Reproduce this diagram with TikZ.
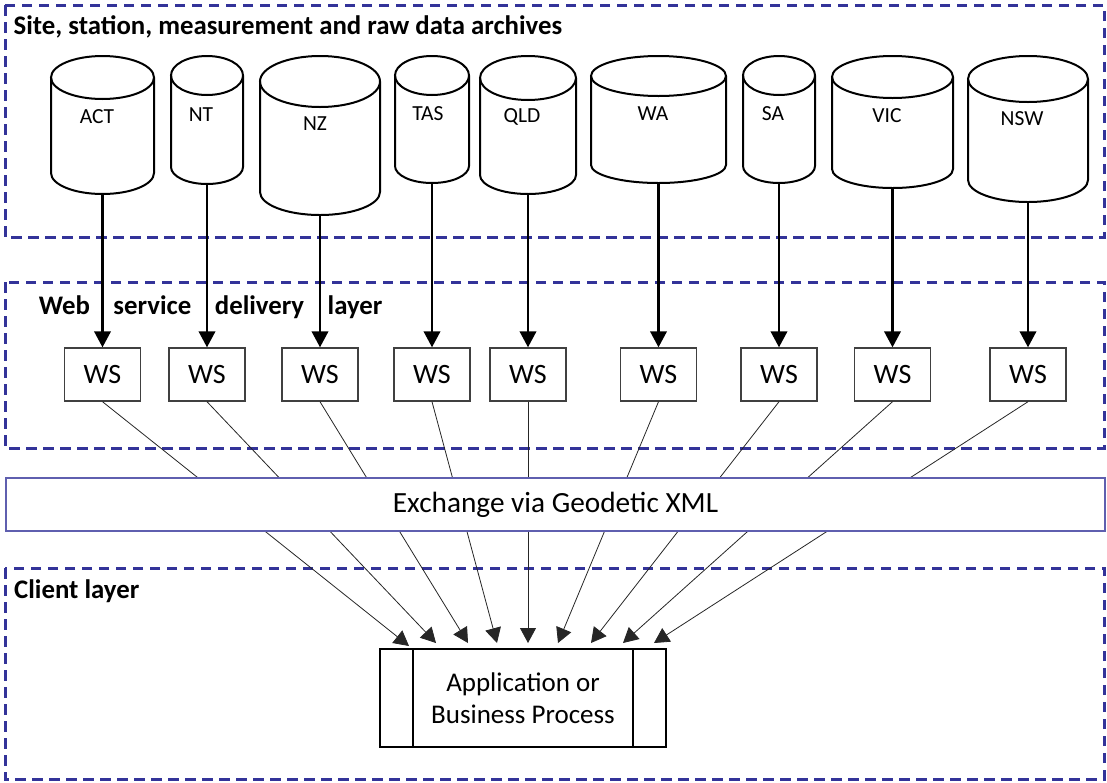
\documentclass[tikz,border=0pt]{standalone}
\usepackage{fontspec}
\setmainfont{Carlito}
\usetikzlibrary{arrows.meta}
\definecolor{dashblue}{RGB}{51,51,153}
\definecolor{barblue}{RGB}{95,95,175}
\newcommand\dbcyl[9]{%
  \pgfmathsetmacro\cyX{(#2+#3)/2}%
  \pgfmathsetmacro\cyR{(#3-#2)/2}%
  \pgfmathsetmacro\cyT{56+#4}%
  \pgfmathsetmacro\cyB{#5-#6}%
  \draw[cyl] (#2,\cyT) -- (#2,\cyB) arc[start angle=180,end angle=0,x radius=\cyR,y radius=#6] -- (#3,\cyT);
  \draw[cyl] (\cyX,\cyT) ellipse[x radius=\cyR, y radius=#4];
  \node[cyllabel] (#1) at (#8,#9) {#7};
  \coordinate (#1b) at (\cyX,#5);
  \node[wsbox] (#1ws) at (\cyX,374.5) {WS};
}
\begin{document}
\begin{tikzpicture}[x=1pt,y=-1pt,
  layer/.style={draw=dashblue, line width=3pt, dash pattern=on 10.5pt off 6.5pt},
  cyl/.style={draw=black, line width=2pt},
  cyllabel/.style={inner sep=0pt, font=\fontsize{21.5}{25}\selectfont},
  wsbox/.style={draw=black!75, line width=1.4pt, minimum width=76pt, minimum height=53pt, inner sep=0pt, font=\fontsize{28}{32}\selectfont},
  title/.style={inner sep=0pt, anchor=base west, font=\fontsize{26.8}{31}\selectfont\bfseries},
  toparrow/.style={line width=2.3pt, -{Triangle[length=16pt, width=16.5pt]}},
  botarrow/.style={draw=black!85, line width=0.8pt, -{Triangle[length=15pt, width=16pt]}},
  appline/.style={line width=1.8pt}
]
\useasboundingbox (0,0) rectangle (1107,782);
% layers
\draw[layer] (5,5) rectangle (1104,237);
\draw[layer] (5,282) rectangle (1104,448);
\draw[layer] (5,568) rectangle (1104,779);
\node[title] (ttop) at (13.5,34.3) {Site, station, measurement and raw data archives};
\node[title] (tmid) at (38.6,314) {\makebox[343.7pt][s]{Web service delivery layer}};
\node[title] (tbot) at (14,598.3) {Client layer};
% cylinders and WS boxes
\dbcyl{ACT}{51}{154}{21.5}{194}{21}{ACT}{97}{117}
\dbcyl{NT}{171}{243}{19.5}{184}{17}{NT}{201}{115}
\dbcyl{NZ}{260}{380}{25.5}{215}{23}{NZ}{315}{124}
\dbcyl{TAS}{395}{469}{19.5}{183}{17}{TAS}{428}{114}
\dbcyl{QLD}{480}{576}{22}{194}{19}{QLD}{522}{117}
\dbcyl{WA}{591}{726}{20}{183}{18}{WA}{653}{114}
\dbcyl{SA}{743}{815}{19.5}{183}{17}{SA}{773}{114}
\dbcyl{VIC}{832}{953}{21}{188}{19}{VIC}{887}{116}
\dbcyl{NSW}{968}{1088}{23}{202}{22}{NSW}{1022}{119}
\foreach \n in {ACT,NT,NZ,TAS,QLD,WA,SA,VIC,NSW}{
  \draw[toparrow] (\n b) -- (\n ws.north);
}
% application box
\node[draw=black, line width=1.8pt, minimum width=286pt, minimum height=98pt, inner sep=0pt,
      align=center, font=\fontsize{27}{32}\selectfont] (app) at (523,698) {Application or\\Business Process};
\draw[appline] ([xshift=34pt]app.north west) -- ([xshift=34pt]app.south west);
\draw[appline] ([xshift=-34pt]app.north east) -- ([xshift=-34pt]app.south east);
% arrow tips
\coordinate (tACT) at (409,646);
\coordinate (tNT) at (436,643);
\coordinate (tNZ) at (468,643);
\coordinate (tTAS) at (497,643);
\coordinate (tQLD) at (528,643);
\coordinate (tWA) at (558,643);
\coordinate (tSA) at (591,643);
\coordinate (tVIC) at (623,643);
\coordinate (tNSW) at (654,643);
\foreach \n in {ACT,NT,NZ,TAS,QLD,WA,SA,VIC,NSW}{
  \draw[botarrow] (\n ws.south) -- (t\n);
}
% exchange bar on top
\node[draw=barblue, line width=1.4pt, fill=white, minimum width=1099pt, minimum height=53pt, inner sep=0pt,
      font=\fontsize{29.3}{34}\selectfont] (xml) at (555.5,504.5) {Exchange via Geodetic XML};
\end{tikzpicture}
\end{document}
